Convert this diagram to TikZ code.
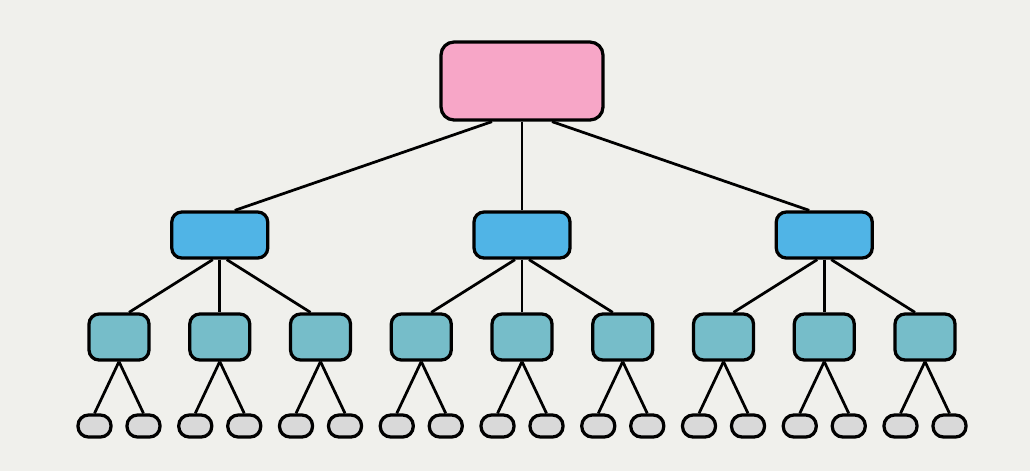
\documentclass[tikz,border=0pt]{standalone}
\usetikzlibrary{calc}
\definecolor{fond}{RGB}{240,240,236}
\definecolor{rose}{RGB}{247,166,199}
\definecolor{bleu}{RGB}{80,180,230}
\definecolor{turquoise}{RGB}{118,189,201}
\definecolor{gris}{RGB}{217,217,217}
\newcommand{\pas}{100.75}
\tikzstyle{boite}=[rectangle, rounded corners=0.2cm, line width=0.065cm, draw=black, inner sep=0cm]
\tikzstyle{racine}=[boite, fill=rose, minimum width=3.24cm, minimum height=1.56cm, rounded corners=0.26cm]
\tikzstyle{niveau1}=[boite, fill=bleu, minimum width=1.92cm, minimum height=0.92cm]
\tikzstyle{niveau2}=[boite, fill=turquoise, minimum width=1.2cm, minimum height=0.92cm]
\tikzstyle{feuille}=[boite, fill=gris, minimum width=0.66cm, minimum height=0.44cm, rounded corners=0.21cm]
\tikzstyle{trait}=[line width=0.055cm, draw=black]
\newcommand{\lien}[4]{ \draw[trait] ($(#1.south)+(#2,0)$) -- ($(#3.north)+(#4,0)$); }

\begin{document}
\begin{tikzpicture}[x=0.02cm,y=-0.02cm]

 \fill[fond] (0,0) rectangle (1030,471);

 \node[racine] (R) at (522,81) {};

 \foreach \i/\d/\e in {0/-30/15,1/0/0,2/30/-15}%
 {%
     \pgfmathsetmacro{\xa}{119+\pas*(3*\i+1)}
     \node[niveau1] (N\i) at (\xa,235) {};%
     \lien{R}{\d}{N\i}{\e}
     \foreach \k/\f/\g in {0/-7/10,1/0/0,2/7/-10}{
         \pgfmathsetmacro{\xb}{119+\pas*(3*\i+\k)}
         \node[niveau2] (N\i\k) at (\xb,337) {};
         \lien{N\i}{\f}{N\i\k}{\g}
          \foreach \l in {0,1}{
             \node[feuille] (N\i\k\l) at (\xb-24.5+49*\l,426) {};
             \lien{N\i\k}{0}{N\i\k\l}{0}
         }
     }
 }

\end{tikzpicture}
\end{document}
